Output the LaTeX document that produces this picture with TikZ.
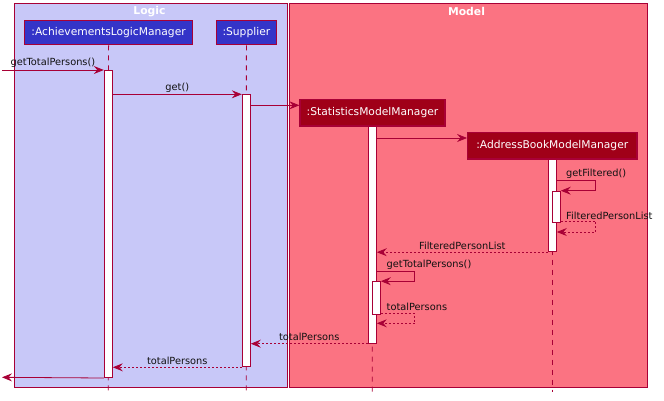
\documentclass[tikz,border=0pt]{standalone}
\usepackage{fontspec}
\setmainfont{DejaVu Sans}
\usetikzlibrary{arrows.meta}
\definecolor{bord}{HTML}{A80036}
\definecolor{logicfill}{HTML}{C8C8F8}
\definecolor{modelfill}{HTML}{FB7382}
\definecolor{partblue}{HTML}{3434C8}
\definecolor{partred}{HTML}{A00018}
\definecolor{lbltext}{HTML}{111111}
\begin{document}
\begin{tikzpicture}[x=1pt,y=-1pt,
  grp/.style={draw=bord, line width=1pt, anchor=north west, inner sep=0pt},
  ttl/.style={text=white, font=\bfseries\fontsize{10.8}{12}\selectfont, inner sep=0pt},
  partL/.style={draw=bord, line width=1.2pt, fill=partblue, text=white, font=\fontsize{10.7}{12}\selectfont, inner sep=0pt, minimum height=24.5pt},
  partM/.style={partL, fill=partred},
  life/.style={draw=bord, dash pattern=on 5pt off 5pt, line width=0.8pt},
  act/.style={draw=bord, fill=white, line width=1pt, minimum width=8pt, inner sep=0pt, anchor=north},
  msg/.style={draw=bord, line width=0.8pt, -{Stealth[length=10pt,width=8pt,inset=3.5pt]}},
  ret/.style={msg, dash pattern=on 2pt off 2pt},
  lbl/.style={font=\fontsize{9.8}{11}\selectfont, text=lbltext, inner sep=0pt},
]
\useasboundingbox (0,0) rectangle (664,400);
\fill[white] (0,0) rectangle (664,400);
% groups
\node[grp, fill=logicfill, minimum width=273.3pt, minimum height=384.3pt] (logic) at (14,3) {};
\node[grp, fill=modelfill, minimum width=358.3pt, minimum height=384.3pt] (model) at (289,3) {};
\node[ttl] (logicT) at (149.5,11.5) {Logic};
\node[ttl] (modelT) at (466.5,11.5) {Model};
% participants
\node[partL, minimum width=167.7pt] (alm) at (108.6,32.5) {:AchievementsLogicManager};
\node[partL, minimum width=60.4pt] (sup) at (246.4,32.5) {:Supplier};
\node[partM, minimum width=145pt, minimum height=26.7pt] (smm) at (372.5,112.7) {:StatisticsModelManager};
\node[partM, minimum width=169.3pt, minimum height=26.3pt] (abm) at (552.3,145.9) {:AddressBookModelManager};
% lifelines
\coordinate (almE) at (108.3,392);
\coordinate (supE) at (246.3,392);
\coordinate (smmE) at (372.3,392);
\coordinate (abmE) at (552.3,392);
\draw[life] (alm.south) -- (almE);
\draw[life] (sup.south) -- (supE);
\draw[life] (smm.south) -- (smmE);
\draw[life] (abm.south) -- (abmE);
% activations
\node[act, minimum height=307pt] (almA) at (108.3,70) {};
\node[act, minimum height=272pt] (supA) at (246.3,94.3) {};
\node[act, minimum height=216.5pt] (smmA) at (372.3,126.2) {};
\node[act, minimum height=32.5pt] (smmB) at (376.3,281.2) {};
\node[act, minimum height=92pt] (abmA) at (552.3,159.2) {};
\node[act, minimum height=31.3pt] (abmB) at (556.3,190.7) {};
% messages
\coordinate (src) at (2,70);
\draw[msg] (src) -- node[lbl, anchor=base, yshift=4.5pt] {getTotalPersons()} (almA.north west);
\draw[msg] (almA.east |- supA.north) -- node[lbl, anchor=base, yshift=4.3pt] {get()} (supA.north west);
\draw[msg] (supA.east |- 0,105.3) -- (smm.west |- 0,105.3);
\draw[msg] (smmA.east |- 0,138) -- (abm.west |- 0,138);
\draw[msg] (abmA.east |- 0,180.3) -- ++(39,0) |- (abmB.north east);
\node[lbl, anchor=base west] (l1) at (566,176) {getFiltered()};
\draw[ret] (abmB.east |- 0,221) -- ++(35,0) |- (abmA.east |- 0,232);
\node[lbl, anchor=base west] (l2) at (566,219) {FilteredPersonList};
\draw[ret] (abmA.south west) -- node[lbl, anchor=base, yshift=2.5pt] {FilteredPersonList} (smmA.east |- abmA.south);
\draw[msg] (smmA.east |- 0,271.7) -- ++(38,0) |- (smmB.north east);
\node[lbl, anchor=base west] (l3) at (386.5,267) {getTotalPersons()};
\draw[ret] (smmB.east |- 0,313.5) -- ++(34,0) |- (smmA.east |- 0,323.3);
\node[lbl, anchor=base west] (l4) at (386.5,310) {totalPersons};
\draw[ret] (smmA.south west) -- node[lbl, anchor=base, yshift=3.3pt] {totalPersons} (supA.east |- smmA.south);
\draw[ret] (supA.south west) -- node[lbl, anchor=base, yshift=3.3pt] {totalPersons} (almA.east |- supA.south);
\coordinate (out) at (2,377.3);
\draw[msg] (almA.south west) -- (out);
\end{tikzpicture}
\end{document}
